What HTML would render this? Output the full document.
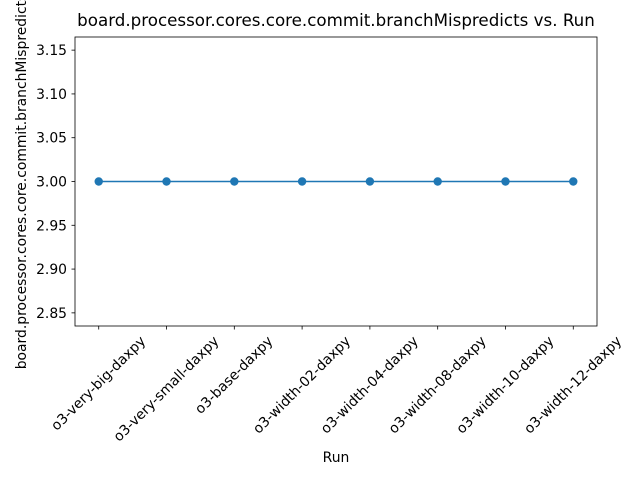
<!DOCTYPE html>
<html><head><meta charset="utf-8"><style>body{margin:0;background:#fff}svg{font-family:"DejaVu Sans","Liberation Sans",sans-serif}</style></head>
<body>
<svg id="c" width="640" height="480" xmlns="http://www.w3.org/2000/svg"></svg>
<script>
const categories=["o3-very-big-daxpy","o3-very-small-daxpy","o3-base-daxpy","o3-width-02-daxpy","o3-width-04-daxpy","o3-width-08-daxpy","o3-width-10-daxpy","o3-width-12-daxpy"];
const values=[3,3,3,3,3,3,3,3];
const yTicks=[2.85,2.90,2.95,3.00,3.05,3.10,3.15];
const L=75,R=597,T=37,B=326,ymin=2.835,ymax=3.165;
const n=categories.length;
const xs=i=>L+(i+0.35)/(n-1+0.7)*(R-L);
const ys=v=>B-(v-ymin)/(ymax-ymin)*(B-T);
const s=document.getElementById('c');const NS="http://www.w3.org/2000/svg";
function mk(t,a,txt){const e=document.createElementNS(NS,t);for(const k in a)e.setAttribute(k,a[k]);if(txt!=null)e.textContent=txt;s.appendChild(e);return e;}
let e;
e=mk('text',{x:(L+R)/2,y:26,'text-anchor':'middle','font-size':16.7},'board.processor.cores.core.commit.branchMispredicts vs. Run');

yTicks.forEach(v=>{const y=ys(v);
 e=mk('line',{x1:L-3.5,x2:L,y1:y,y2:y,stroke:'#000','stroke-width':0.8});
 e=mk('text',{x:L-8,y:y+5,'text-anchor':'end','font-size':13.9},v.toFixed(2));});
categories.forEach((c,i)=>{const x=xs(i);
 e=mk('line',{x1:x,x2:x,y1:B,y2:B+3.5,stroke:'#000','stroke-width':0.8});
 e=mk('text',{x:x,y:0,'text-anchor':'middle','dominant-baseline':'central','font-size':13.9},c);
 const w=e.getComputedTextLength();const bh=(w+14)*0.7071;const cy=B+8+bh/2;
 e.setAttribute('y',cy);e.setAttribute('transform',`rotate(-45 ${x} ${cy})`);});
e=mk('polyline',{points:values.map((v,i)=>xs(i)+','+ys(v)).join(' '),fill:'none',stroke:'#1f77b4','stroke-width':1.5});

values.forEach((v,i)=>{e=mk('circle',{cx:xs(i),cy:ys(v),r:4.2,fill:'#1f77b4'});});
e=mk('rect',{x:L,y:T,width:R-L,height:B-T,fill:'none',stroke:'#000','stroke-width':0.8});
e=mk('text',{x:(L+R)/2,y:462,'text-anchor':'middle','font-size':13.9},'Run');
e=mk('text',{x:0,y:0,'text-anchor':'middle','font-size':13.9,transform:`translate(26 ${(T+B)/2}) rotate(-90)`},'board.processor.cores.core.commit.branchMispredicts');
</script>
</body></html>
